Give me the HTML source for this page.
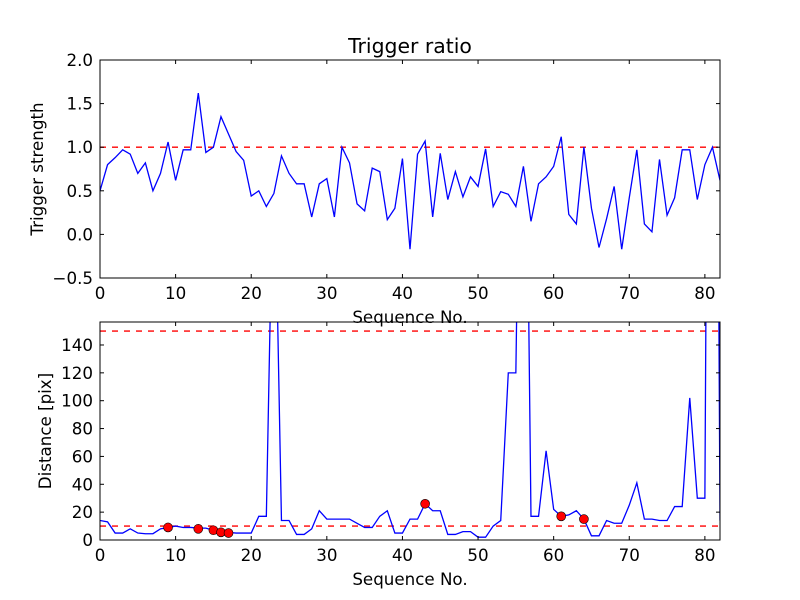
<!DOCTYPE html>
<html><head><meta charset="utf-8"><style>
body{margin:0;background:#fff}
svg{display:block}
text{font-family:"DejaVu Sans","Liberation Sans",sans-serif;fill:#000}
</style></head><body>
<svg id="chart" width="800" height="600" viewBox="0 0 800 600" xmlns="http://www.w3.org/2000/svg">
<rect width="800" height="600" fill="#fff"/>
</svg>
<script>
const strength = [0.5,0.8,0.88,0.97,0.92,0.7,0.82,0.5,0.7,1.06,0.62,0.97,0.97,1.62,0.94,1.0,1.35,1.15,0.95,0.85,0.44,0.5,0.32,0.47,0.9,0.7,0.58,0.58,0.2,0.58,0.64,0.2,1.0,0.82,0.35,0.27,0.76,0.72,0.17,0.3,0.87,-0.17,0.92,1.07,0.2,0.93,0.4,0.72,0.43,0.66,0.55,0.98,0.32,0.49,0.46,0.32,0.78,0.15,0.58,0.66,0.78,1.12,0.23,0.12,1.0,0.3,-0.15,0.18,0.55,-0.17,0.42,0.97,0.12,0.03,0.86,0.22,0.42,0.97,0.97,0.4,0.8,1.0,0.62];
const distance = [14,13,5,5,8,5,4.5,4.5,8,9,10,9,9,8.5,8.5,7,6,5.5,5,5,5,17,17,300,14,14,4,4,8,21,15,15,15,15,12,9,9,17,21,5,5,15,15,26,21,21,4,4,6,6,2,2,10,14,120,120,500,17,17,64,22,17,18,21,15,3,3,14,12,12,25,41,15,15,14,14,24,24,102,30,30,1000,14];
const markerX = [9,13,15,16,17,43,61,64];
const markerY = [9,8,7,5.5,5,26,17,15];
const xTicks = [0,10,20,30,40,50,60,70,80];
const topYTicks = [-0.5,0.0,0.5,1.0,1.5,2.0];
const botYTicks = [0,20,40,60,80,100,120,140];
const topThreshold = [1.0];
const botThresholds = [10,150];

const NS="http://www.w3.org/2000/svg";
const svg=document.getElementById('chart');
function el(tag,attrs,parent){const e=document.createElementNS(NS,tag);for(const k in attrs)e.setAttribute(k,attrs[k]);(parent||svg).appendChild(e);return e;}
const FS=16.7;
function panel(name,top,bottom,ymin,ymax,yTicks,yFmt,vals,thr,ylabel,title){
  const L=100,R=720,xmin=0,xmax=82;
  const sx=v=>L+(v-xmin)/(xmax-xmin)*(R-L);
  const sy=v=>bottom-(v-ymin)/(ymax-ymin)*(bottom-top);
  const g=el('g',{});
  
  
  const defs=el('clipPath',{id:name+'-clip'},g);
  el('rect',{x:L,y:top,width:R-L,height:bottom-top},defs);
  thr.forEach(t=>{const l=el('line',{x1:L,x2:R,y1:sy(t),y2:sy(t),stroke:'#ff0000','stroke-width':1.3,'stroke-dasharray':'6,6'},g);
    
    });
  const pts=vals.map((v,i)=>sx(i).toFixed(2)+','+sy(v).toFixed(2)).join(' ');
  const pl=el('polyline',{points:pts,fill:'none',stroke:'#0000ff','stroke-width':1.3,'clip-path':'url(#'+name+'-clip)'},g);
  
  
  const fr=el('rect',{x:L,y:top,width:R-L,height:bottom-top,fill:'none',stroke:'#000','stroke-width':1},g);
  
  
  xTicks.forEach(t=>{const x=sx(t);
    el('line',{x1:x,x2:x,y1:bottom,y2:bottom-4,stroke:'#000'},g);
    el('line',{x1:x,x2:x,y1:top,y2:top+4,stroke:'#000'},g);
    const tx=el('text',{x:x,y:bottom+21,'text-anchor':'middle','font-size':FS},g);tx.textContent=t;
    
    });
  yTicks.forEach(t=>{const y=sy(t);
    el('line',{x1:L,x2:L+4,y1:y,y2:y,stroke:'#000'},g);
    el('line',{x1:R,x2:R-4,y1:y,y2:y,stroke:'#000'},g);
    const tx=el('text',{x:L-7,y:y+6,'text-anchor':'end','font-size':FS},g);tx.textContent=yFmt(t);
    
    });
  const xl=el('text',{x:410,y:bottom+45,'text-anchor':'middle','font-size':FS},g);xl.textContent='Sequence No.';
  
  
  const cy=(top+bottom)/2;
  const yl=el('text',{x:0,y:0,'text-anchor':'middle','font-size':FS,transform:'translate('+ylabel[1]+','+cy+') rotate(-90)'},g);yl.textContent=ylabel[0];
  
  
  if(title){const tt=el('text',{x:410,y:top-7,'text-anchor':'middle','font-size':20.4},g);tt.textContent=title;
    
    }
  return {sx,sy,g};
}
panel('top',60,278,-0.5,2.0,topYTicks,v=>(v<0?'\u22120.5':v.toFixed(1)),strength,topThreshold,['Trigger strength',43],'Trigger ratio');
const b=panel('bottom',322,540,0,156.5,botYTicks,v=>String(v),distance,botThresholds,['Distance [pix]',51],null);
markerX.forEach((x,i)=>{const c=el('circle',{cx:b.sx(x),cy:b.sy(markerY[i]),r:4.5,fill:'#ff0000',stroke:'#000','stroke-width':0.6},b.g);
  
  });
</script>
</body></html>
